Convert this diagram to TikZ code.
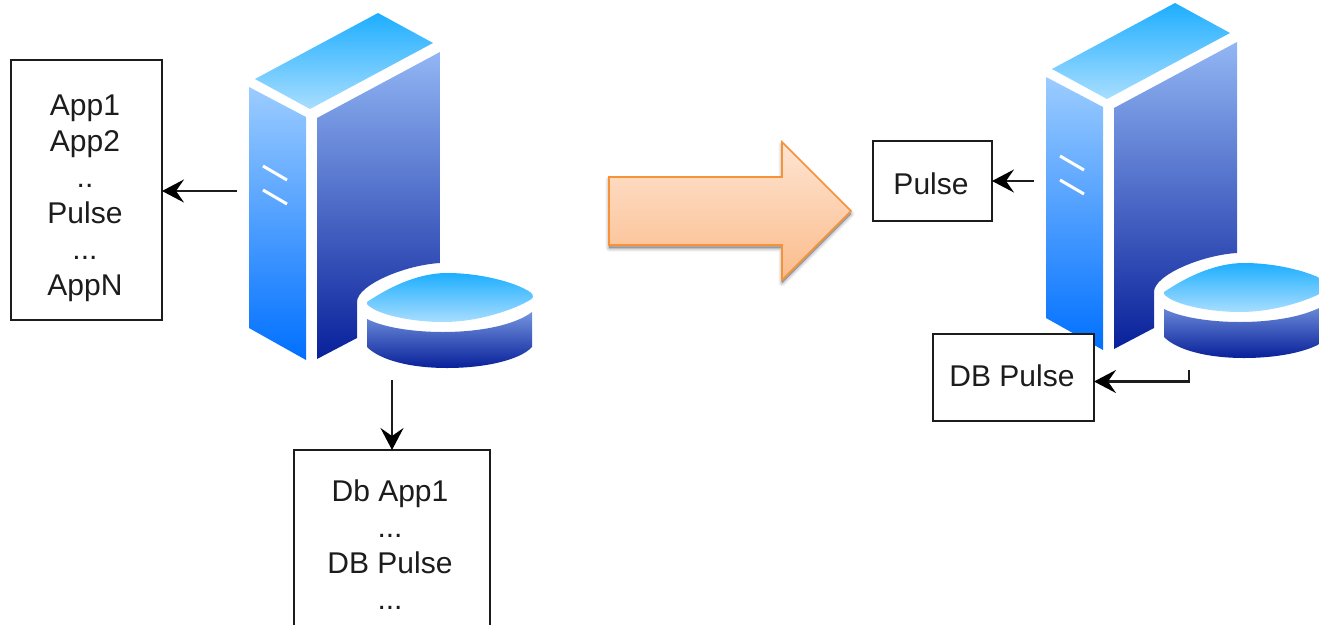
\documentclass[tikz,border=0pt]{standalone}
\usepackage{fontspec}
\setmainfont{Liberation Sans}
\usetikzlibrary{arrows.meta,calc}
\definecolor{inkdark}{HTML}{1C1C1C}
\tikzset{
  x=1pt,y=-1pt,
  txt/.style={font=\fontsize{30}{36}\selectfont,text=inkdark,align=center,inner sep=0pt},
  boxed/.style={draw=inkdark,line width=2.3pt,fill=white,inner sep=0pt,outer sep=0pt,anchor=north west},
  conn/.style={draw=inkdark,line width=2.2pt,-{Stealth[length=22pt,width=23pt,inset=8pt,fill=black,color=black]}},
  topface/.style={top color=topA,bottom color=topB,draw=none},
  server/.pic={
    \path[topface] (378,13) -- (433,43) -- (310,109) -- (255,79) -- cycle;
    \path[top color=leftA,bottom color=leftB] (249,87) -- (306,117) -- (306,360) -- (249,328) -- cycle;
    \path[top color=rightA,bottom color=rightB] (317,118) -- (440,52) -- (440,263)
       .. controls (405,265) and (357,285) .. (357,302) -- (357,338) -- (317,359) -- cycle;
    \draw[white,line width=3pt] (263,166) -- (287,180) (263,190) -- (287,204);
    \path[topface] (367,302) .. controls (385,290) and (415,273) .. (447,273)
       .. controls (480,273) and (515,282) .. (530,292)
       .. controls (534,295) and (534,298) .. (530,300)
       .. controls (515,309) and (480,322) .. (443,322)
       .. controls (410,322) and (375,314) .. (367,304) -- cycle;
    \path[top color=sideA,bottom color=rightB] (367,319) .. controls (385,328) and (415,332) .. (443,332)
       .. controls (480,332) and (515,325) .. (532,312) -- (532,347)
       .. controls (520,360) and (485,368) .. (447,368)
       .. controls (410,368) and (380,360) .. (367,347) -- cycle;
  }
}
\definecolor{topA}{HTML}{1EAEFF}
\definecolor{topB}{HTML}{A8DEFF}
\definecolor{leftA}{HTML}{9CCCFF}
\definecolor{leftB}{HTML}{0070FF}
\definecolor{rightA}{HTML}{92B6F4}
\definecolor{rightB}{HTML}{08209A}
\definecolor{sideA}{HTML}{7494DE}
\definecolor{arrowA}{HTML}{FEE4D2}
\definecolor{arrowB}{HTML}{FBBC8C}
\definecolor{arrowLine}{HTML}{F79239}
\begin{document}
\begin{tikzpicture}
\useasboundingbox (0,0) rectangle (1319,624);
\clip (0,0) rectangle (1319,624);

\pic at (0,0) {server};
\pic at (797,-10) {server};

% big arrow with soft shadow
\foreach \w/\o in {7/0.05,5/0.06,3/0.07,1/0.09}{
  \path[draw=black,fill=black,draw opacity=\o,fill opacity=\o,line width=\w pt,line join=round]
    (609,180) -- (782,180) -- (782,145) -- (851,214) -- (782,283) -- (782,248) -- (609,248) -- cycle;
}
\path[top color=arrowA,bottom color=arrowB,draw=arrowLine,line width=1.6pt,line join=miter]
  (609,177) -- (782,177) -- (782,142) -- (851,211) -- (782,280) -- (782,245) -- (609,245) -- cycle;

% boxes
\node[boxed,minimum width=151pt,minimum height=260pt,
  label={[txt,name=appsText,xshift=-1.5pt,yshift=-8pt]center:App1\\App2\\..\\Pulse\\...\\AppN}] (apps) at (11,60) {};
\node[boxed,minimum width=196pt,minimum height=190pt,
  label={[txt,name=dbsText,xshift=-2pt]center:Db App1\\...\\DB Pulse\\...}] (dbs) at (294,450) {};
\node[boxed,minimum width=119pt,minimum height=80pt,
  label={[txt,name=pulseText,xshift=-1.5pt,yshift=-3pt]center:Pulse}] (pulse) at (873,141) {};
\node[boxed,minimum width=161pt,minimum height=87pt,
  label={[txt,name=dbpulseText,xshift=-1.5pt,yshift=2pt]center:DB Pulse}] (dbpulse) at (933,334) {};

% free connector ends
\coordinate (srvA) at (237,191);
\coordinate (srvB) at (392,380);
\coordinate (srvC) at (1034,181);
\coordinate (srvD) at (1189,370);

\draw[conn] (srvA) -- (srvA -| apps.east);
\draw[conn] (srvB) -- (srvB |- dbs.north);
\draw[conn] (srvC) -- (srvC -| pulse.east);
\draw[conn] (srvD) |- ([yshift=-4pt]dbpulse.east);
\end{tikzpicture}
\end{document}
